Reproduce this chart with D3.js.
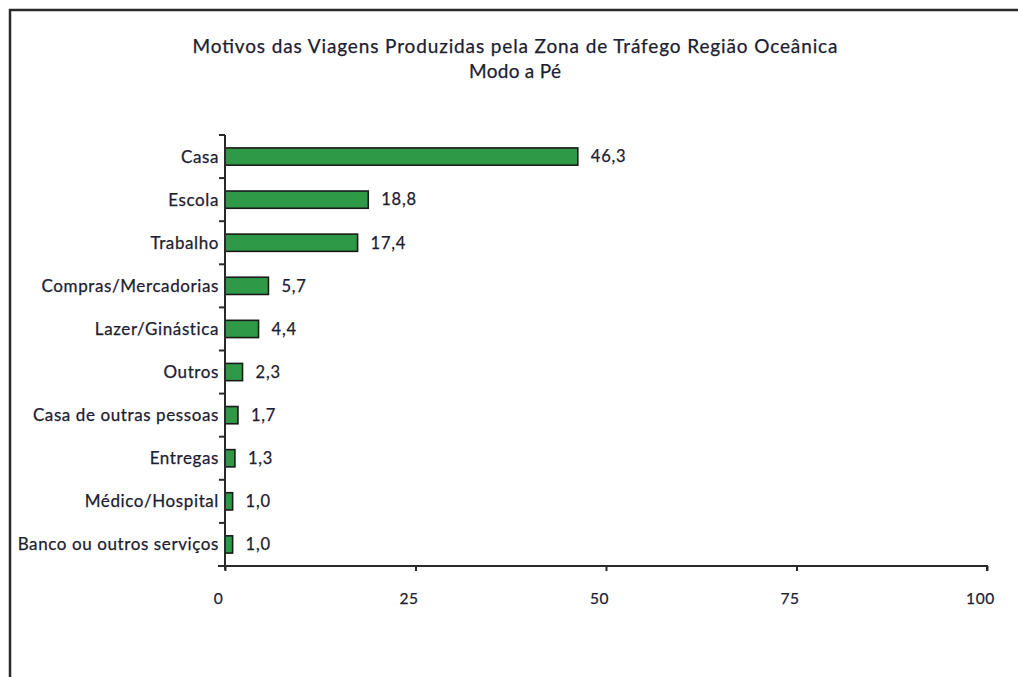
<!DOCTYPE html>
<html><head><meta charset="utf-8">
<script src="https://cdn.jsdelivr.net/npm/d3@7"></script>
<style>
html,body{margin:0;padding:0;background:#fff;overflow:hidden;}
text{font-family:Lato,"Open Sans",sans-serif;fill:#1c2030;stroke:#1c2030;stroke-width:0.25px;}
</style></head>
<body><svg id="c" width="1018" height="677"></svg>
<script>
const categories = ["Casa","Escola","Trabalho","Compras/Mercadorias","Lazer/Ginástica","Outros","Casa de outras pessoas","Entregas","Médico/Hospital","Banco ou outros serviços"];
const values = [46.3,18.8,17.4,5.7,4.4,2.3,1.7,1.3,1.0,1.0];
const xTicks = [0,25,50,75,100];
const titleLines = ["Motivos das Viagens  Produzidas pela Zona de Tráfego Região Oceânica","Modo a Pé"];

(function(){
const svg = d3.select("#c");
svg.append("rect").attr("x",10).attr("y",10).attr("width",1030).attr("height",700)
  .attr("fill","none").attr("stroke","#2a2a2a").attr("stroke-width",2.5);

const L=225, R=987, T=135, B=566;
const x = d3.scaleLinear().domain([0,100]).range([L,R]);
const y = d3.scaleBand().domain(categories).range([T,B]).paddingInner(0.6).paddingOuter(0.3);
const yb = d3.scaleLinear().domain([0,categories.length]).range([T,B]);

const titleW = [645, 92];
svg.selectAll("text.title").data(titleLines).join("text").attr("class","title")
  .attr("x",515).attr("y",(d,i)=>53+i*25).attr("text-anchor","middle")
  .attr("font-size",19).attr("textLength",(d,i)=>titleW[i]).attr("lengthAdjust","spacing")
  .text(d=>d);

svg.selectAll("rect.bar").data(values).join("rect").attr("class","bar")
  .attr("x",x(0)).attr("y",(d,i)=>y(categories[i]))
  .attr("width",d=>x(d)-x(0)).attr("height",y.bandwidth())
  .attr("fill","#2e9a48").attr("stroke","#1a1a1a").attr("stroke-width",1.6);

svg.selectAll("text.val").data(values).join("text").attr("class","val")
  .attr("x",d=>x(d)+13).attr("y",(d,i)=>y(categories[i])+y.bandwidth()/2)
  .attr("dy","0.35em").attr("font-size",16.5).attr("letter-spacing",0.8)
  .text(d=>d3.format(".1f")(d).replace(".",","));

const gy = svg.append("g");
gy.append("line").attr("x1",L).attr("x2",L).attr("y1",T).attr("y2",B+4)
  .attr("stroke","#2a2a2a").attr("stroke-width",2);
gy.selectAll("line.t").data(d3.range(categories.length+1)).join("line").attr("class","t")
  .attr("x1",L-6).attr("x2",L).attr("y1",d=>yb(d)).attr("y2",d=>yb(d))
  .attr("stroke","#2a2a2a").attr("stroke-width",2);
gy.selectAll("text").data(categories).join("text")
  .attr("x",L-6).attr("y",d=>y(d)+y.bandwidth()/2).attr("dy","0.35em")
  .attr("text-anchor","end").attr("font-size",17).attr("letter-spacing",0.6).text(d=>d);

const gx = svg.append("g").attr("transform",`translate(0,${B})`)
  .call(d3.axisBottom(x).tickValues(xTicks).tickSize(5).tickPadding(22).tickFormat(d3.format("d")));
gx.select(".domain").attr("stroke","#2a2a2a").attr("stroke-width",2).attr("d",`M${L-7},0H${R}V5`);
gx.selectAll(".tick line").attr("stroke","#2a2a2a").attr("stroke-width",2);
gx.selectAll(".tick text").attr("font-size",15.5).attr("font-family","Lato,sans-serif").attr("fill","#1c2030").attr("dx",-7).attr("letter-spacing",0.6);
})();
</script></body></html>
